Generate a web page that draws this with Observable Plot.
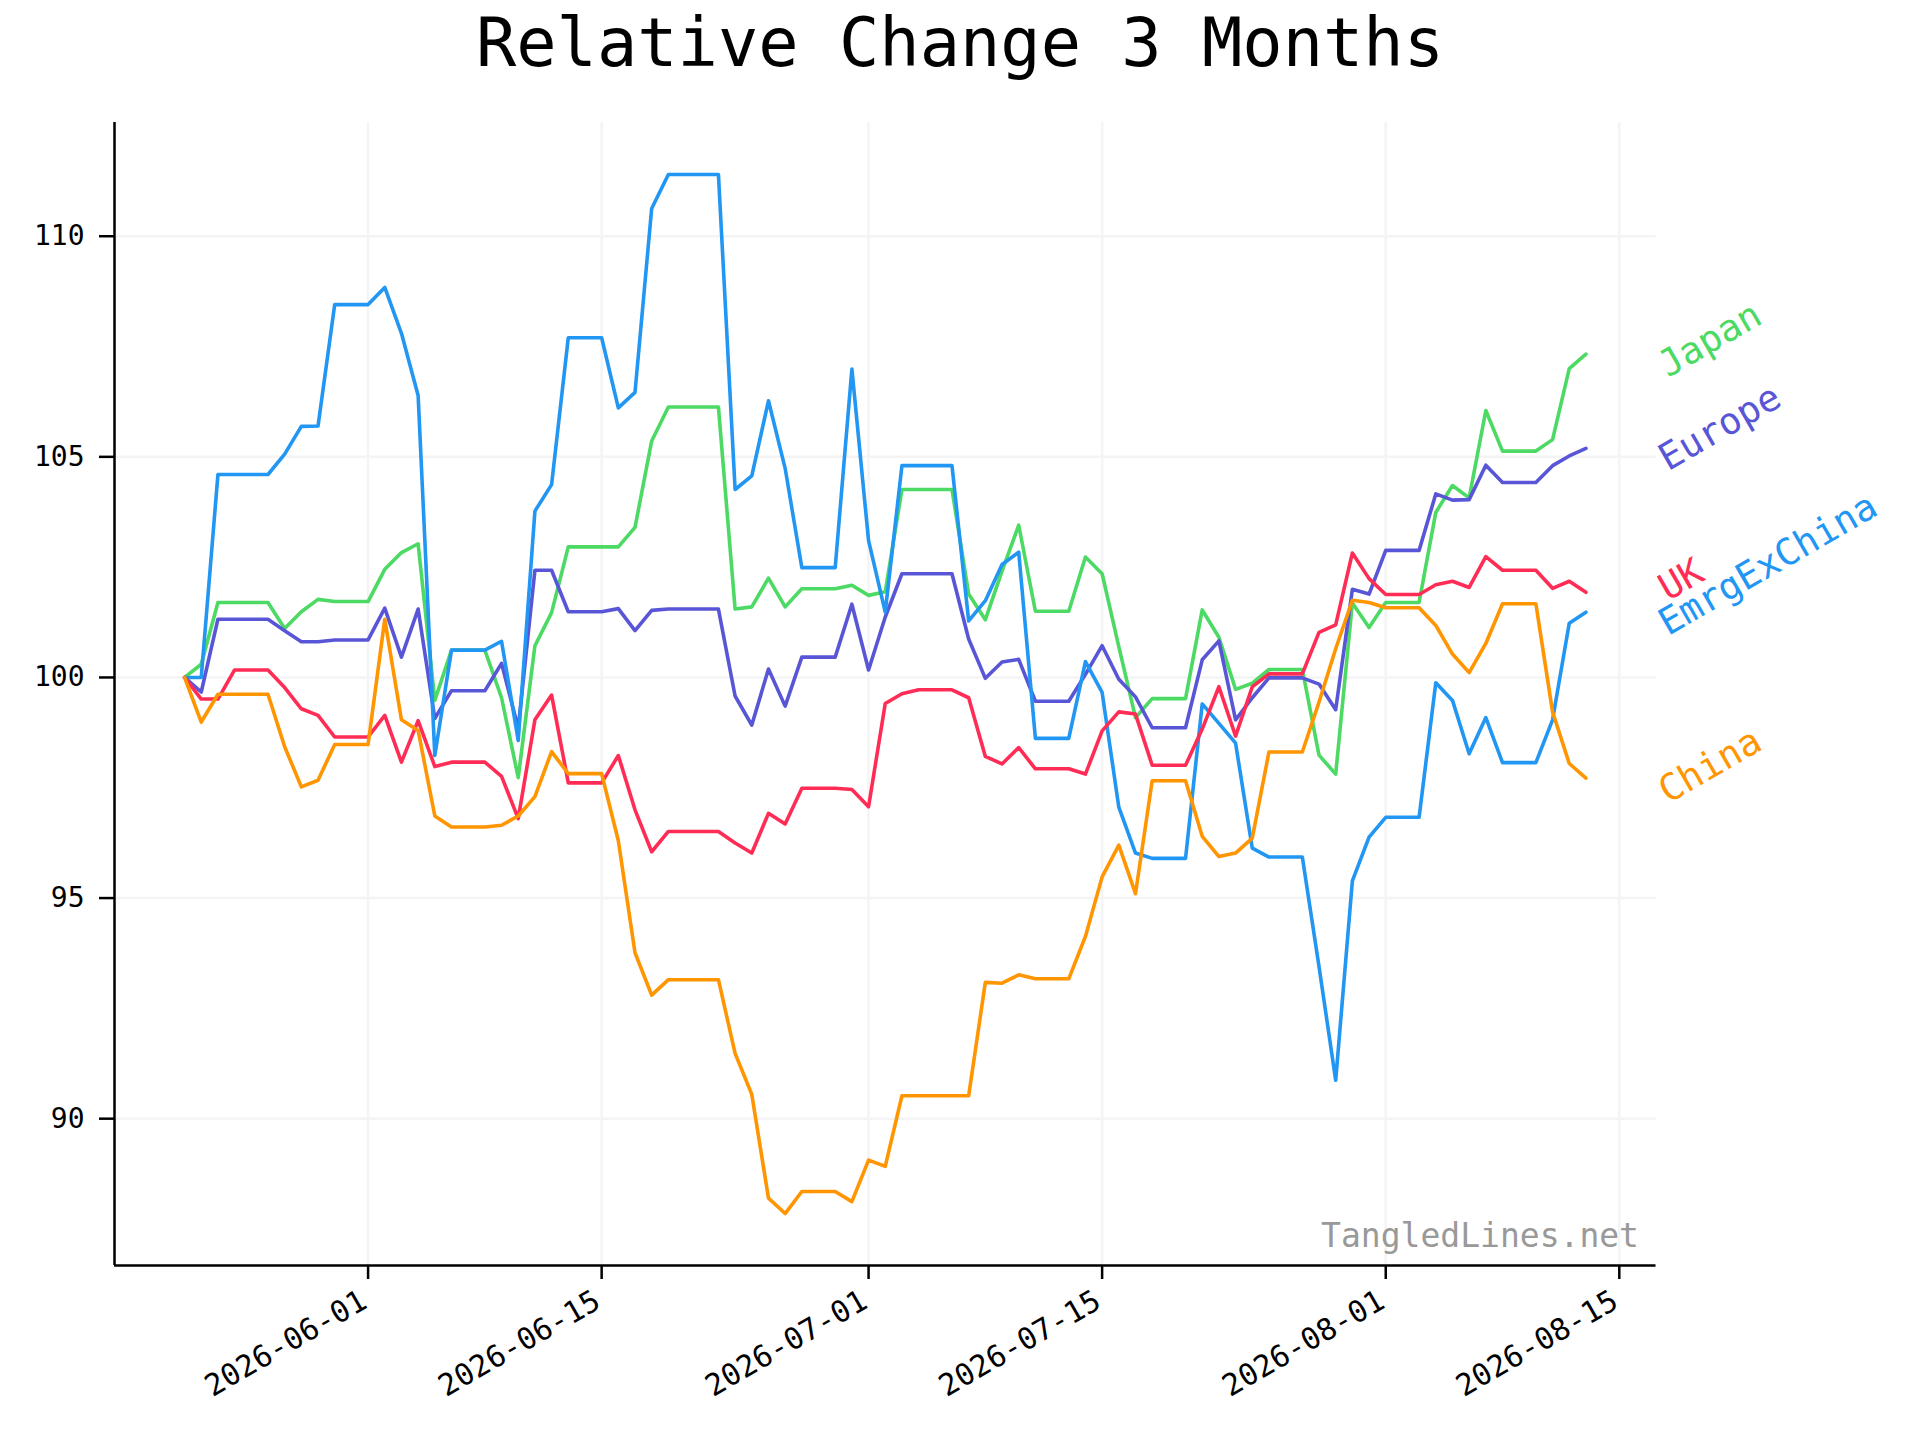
<!DOCTYPE html>
<html>
<head>
<meta charset="utf-8">
<script src="https://cdn.jsdelivr.net/npm/d3@7"></script>
<script src="https://cdn.jsdelivr.net/npm/@observablehq/plot@0.6"></script>
<style>
html, body { margin: 0; padding: 0; background: #fff; }
#wrap { width: 1920px; height: 1440px; overflow: hidden; background: #fff; }
#title { box-sizing: border-box; height: 122px; padding-top: 10px; font-family: "DejaVu Sans Mono", monospace; font-size: 67px; line-height: 67px; text-align: center; color: #000; white-space: pre; }
#chart svg { display: block; }
</style>
</head>
<body>
<div id="wrap">
  <div id="title">Relative Change 3 Months</div>
  <div id="chart"></div>
</div>
<script>
// ---- data ----
const startDate = "2026-05-21";
const seriesNames = ["Japan", "Europe", "EmrgExChina", "UK", "China"];
const seriesColors = ["#4cd964", "#5856d6", "#2196f3", "#ff2d55", "#ff9500"];

const japan = [100.0, 100.3, 101.7, 101.7, 101.7, 101.7, 101.11, 101.49, 101.77, 101.72, 101.72, 101.72, 102.45, 102.83, 103.03, 99.48, 100.62, 100.62, 100.62, 99.54, 97.73, 100.72, 101.47, 102.96, 102.96, 102.96, 102.96, 103.40, 105.36, 106.13, 106.13, 106.13, 106.13, 101.55, 101.60, 102.25, 101.60, 102.01, 102.01, 102.01, 102.09, 101.86, 101.94, 104.26, 104.26, 104.26, 104.26, 101.89, 101.31, 102.41, 103.45, 101.50, 101.50, 101.50, 102.73, 102.35, 100.70, 99.09, 99.52, 99.52, 99.52, 101.53, 100.91, 99.73, 99.87, 100.18, 100.18, 100.18, 98.24, 97.81, 101.69, 101.13, 101.70, 101.70, 101.70, 103.74, 104.35, 104.07, 106.05, 105.13, 105.13, 105.13, 105.39, 107.00, 107.33];

const europe = [100.0, 99.67, 101.32, 101.32, 101.32, 101.32, 101.06, 100.81, 100.81, 100.85, 100.85, 100.85, 101.57, 100.46, 101.55, 99.07, 99.70, 99.70, 99.70, 100.32, 98.85, 102.43, 102.43, 101.49, 101.49, 101.49, 101.56, 101.06, 101.52, 101.55, 101.55, 101.55, 101.55, 99.58, 98.92, 100.19, 99.35, 100.46, 100.46, 100.46, 101.66, 100.17, 101.37, 102.35, 102.35, 102.35, 102.35, 100.87, 99.98, 100.35, 100.41, 99.46, 99.46, 99.46, 100.07, 100.72, 99.96, 99.56, 98.86, 98.86, 98.86, 100.40, 100.83, 99.04, 99.54, 99.99, 99.99, 99.99, 99.85, 99.27, 102.00, 101.89, 102.88, 102.88, 102.88, 104.16, 104.02, 104.03, 104.81, 104.42, 104.42, 104.42, 104.80, 105.02, 105.19];

const uk = [100.0, 99.51, 99.51, 100.17, 100.17, 100.17, 99.77, 99.29, 99.14, 98.65, 98.65, 98.65, 99.14, 98.08, 99.02, 97.98, 98.08, 98.08, 98.08, 97.76, 96.80, 99.04, 99.60, 97.61, 97.61, 97.61, 98.23, 97.00, 96.05, 96.51, 96.51, 96.51, 96.51, 96.25, 96.02, 96.92, 96.68, 97.49, 97.49, 97.49, 97.46, 97.07, 99.41, 99.63, 99.72, 99.72, 99.72, 99.54, 98.21, 98.04, 98.41, 97.93, 97.93, 97.93, 97.81, 98.79, 99.22, 99.17, 98.01, 98.01, 98.01, 98.83, 99.79, 98.67, 99.79, 100.08, 100.08, 100.08, 101.02, 101.19, 102.82, 102.24, 101.88, 101.88, 101.88, 102.10, 102.18, 102.04, 102.74, 102.43, 102.43, 102.43, 102.02, 102.18, 101.93];

const emrgExChina = [100.0, 100.0, 104.60, 104.60, 104.60, 104.60, 105.06, 105.69, 105.70, 108.45, 108.45, 108.45, 108.84, 107.80, 106.39, 98.23, 100.62, 100.62, 100.62, 100.82, 98.57, 103.77, 104.37, 107.70, 107.70, 107.70, 106.11, 106.46, 110.63, 111.40, 111.40, 111.40, 111.40, 104.26, 104.57, 106.27, 104.74, 102.49, 102.49, 102.49, 106.99, 103.10, 101.48, 104.80, 104.80, 104.80, 104.80, 101.28, 101.74, 102.56, 102.84, 98.62, 98.62, 98.62, 100.36, 99.66, 97.06, 96.02, 95.90, 95.90, 95.90, 99.40, 98.96, 98.51, 96.13, 95.93, 95.93, 95.93, 93.45, 90.87, 95.39, 96.38, 96.83, 96.83, 96.83, 99.88, 99.48, 98.27, 99.09, 98.07, 98.07, 98.07, 99.04, 101.23, 101.48];

const china = [100.0, 98.99, 99.62, 99.62, 99.62, 99.62, 98.43, 97.52, 97.67, 98.48, 98.48, 98.48, 101.32, 99.04, 98.80, 96.86, 96.61, 96.61, 96.61, 96.65, 96.86, 97.30, 98.32, 97.82, 97.82, 97.82, 96.30, 93.76, 92.80, 93.15, 93.15, 93.15, 93.15, 91.48, 90.55, 88.20, 87.85, 88.35, 88.35, 88.35, 88.12, 89.06, 88.92, 90.52, 90.52, 90.52, 90.52, 90.52, 93.09, 93.07, 93.26, 93.17, 93.17, 93.17, 94.13, 95.48, 96.20, 95.10, 97.66, 97.66, 97.66, 96.40, 95.94, 96.02, 96.36, 98.31, 98.31, 98.31, 99.44, 100.65, 101.75, 101.70, 101.58, 101.58, 101.58, 101.18, 100.53, 100.11, 100.77, 101.67, 101.67, 101.67, 99.22, 98.05, 97.72];

const xTickLabels = ["2026-06-01", "2026-06-15", "2026-07-01", "2026-07-15", "2026-08-01", "2026-08-15"];
const yTickValues = [90, 95, 100, 105, 110];
const watermark = "TangledLines.net";

// ---- styling (not data) ----
const labelNudge = {Japan: 24, Europe: 23, UK: 9, EmrgExChina: 24, China: 26};

// ---- build table ----
const valuesBySeries = {Japan: japan, Europe: europe, UK: uk, EmrgExChina: emrgExChina, China: china};
const parse = d3.utcParse("%Y-%m-%d");
const start = parse(startDate);
const n = japan.length;
const dates = d3.range(n).map(i => d3.utcDay.offset(start, i));
const rows = seriesNames.flatMap(s => valuesBySeries[s].map((v, i) => ({date: dates[i], value: v, series: s})));
const lastRows = seriesNames.map(s => ({date: dates[n - 1], value: valuesBySeries[s][n - 1], series: s}));

const [x0, x1] = d3.extent(dates);
const xPad = (x1 - x0) * 0.05;
const xDomain = [new Date(+x0 - xPad), new Date(+x1 + xPad)];
const [y0, y1] = d3.extent(rows, d => d.value);
const yPad = (y1 - y0) * 0.05;
const yDomain = [y0 - yPad, y1 + yPad];
const xTicks = xTickLabels.map(parse);

const font = "DejaVu Sans Mono";

const chart = Plot.plot({
  width: 1920,
  height: 1318,
  marginTop: 0,
  marginLeft: 114,
  marginRight: 264.5,
  marginBottom: 175,
  style: {fontFamily: font, fontSize: "28px", background: "#fff", color: "#000", overflow: "visible"},
  x: {type: "utc", domain: xDomain},
  y: {domain: yDomain},
  color: {domain: seriesNames, range: seriesColors},
  marks: [
    Plot.gridY(yTickValues, {stroke: "#f4f4f4", strokeOpacity: 1, strokeWidth: 2.5}),
    Plot.gridX(xTicks, {stroke: "#f4f4f4", strokeOpacity: 1, strokeWidth: 2.5}),
    Plot.axisY(yTickValues, {anchor: "left", tickSize: 15, tickPadding: 15, tickFormat: d => String(d), fontSize: 28, strokeWidth: 2.5, label: null}),
    Plot.axisX(xTicks, {anchor: "bottom", tickSize: 14, strokeWidth: 2.5, fill: "none", label: null}),
    Plot.axisX(xTicks, {anchor: "bottom", tickSize: 0, tickPadding: 33, dx: -4, tickRotate: -30, textAnchor: "end", lineAnchor: "middle", tickFormat: d3.utcFormat("%Y-%m-%d"), fontSize: 30, label: null}),
    Plot.line(rows, {x: "date", y: "value", stroke: "series", z: "series", strokeWidth: 3.6}),
    ...seriesNames.map(s => Plot.text(lastRows.filter(d => d.series === s), {
      x: "date", y: "value", text: "series", fill: "series",
      rotate: -30, textAnchor: "start", lineAnchor: "bottom",
      dx: 82, dy: labelNudge[s], fontSize: 37
    })),
    Plot.ruleX([xDomain[0]], {stroke: "#000", strokeWidth: 2.5}),
    Plot.ruleY([yDomain[0]], {stroke: "#000", strokeWidth: 2.5}),
    Plot.text([watermark], {frameAnchor: "bottom-right", text: d => d, textAnchor: "end", lineAnchor: "bottom", dx: -17, dy: -19, fill: "#999999", fontSize: 33})
  ]
});
document.getElementById("chart").appendChild(chart);
</script>
</body>
</html>
